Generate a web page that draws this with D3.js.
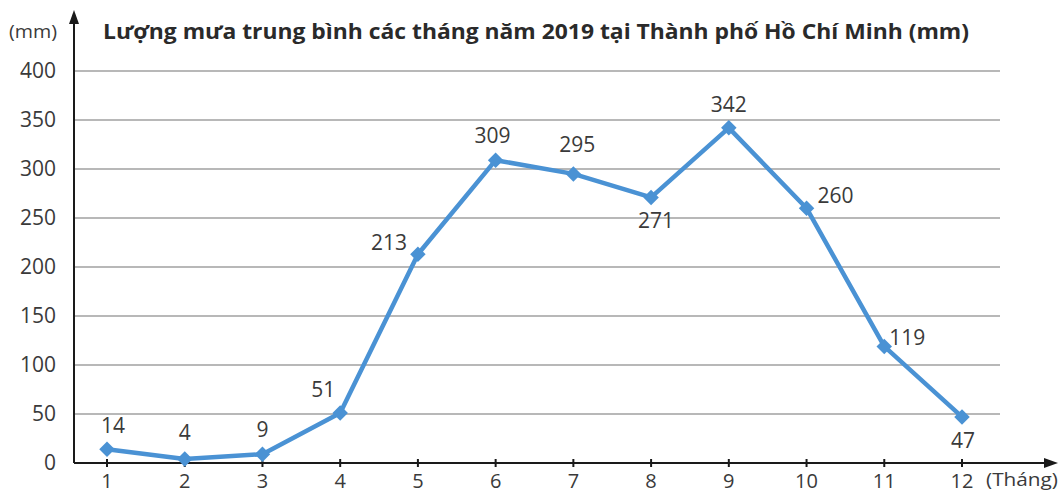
<!DOCTYPE html>
<html><head><meta charset="utf-8">
<script src="https://cdn.jsdelivr.net/npm/d3@7"></script>
<style>body{margin:0;background:#fff}svg{display:block}</style>
</head><body>
<script>
const months = [1,2,3,4,5,6,7,8,9,10,11,12];
const rainfall = [14,4,9,51,213,309,295,271,342,260,119,47];
const yTicks = [0,50,100,150,200,250,300,350,400];
const labelDx = [6,0,0,-17,-29,-3,4,5,0,29,23,1];
const labelDy = [-16,-19,-17,-16,-4,-17,-22,31,-16,-5,-1,31];
const title = "Lượng mưa trung bình các tháng năm 2019 tại Thành phố Hồ Chí Minh (mm)";

const W=1060,H=493;
const svg=d3.select("body").append("svg").attr("width",W).attr("height",H);
const x=d3.scaleLinear().domain([1,12]).range([107,962]);
const y=d3.scaleLinear().domain([0,400]).range([463,71]);
const axX=74;
const font="'Open Sans', 'DejaVu Sans', sans-serif";
const txt="#3a3a3a";

// gridlines
svg.append("g").selectAll("line").data(yTicks.filter(d=>d>0)).join("line")
  .attr("x1",axX).attr("x2",1000).attr("y1",d=>y(d)).attr("y2",d=>y(d))
  .attr("stroke","#a0a0a0").attr("stroke-width",1.6);

// y tick labels
svg.append("g").selectAll("text").data(yTicks).join("text")
  .attr("x",56).attr("y",d=>y(d)+7).attr("text-anchor","end")
  .attr("font-family",font).attr("font-size",21).attr("fill",txt).text(d=>d);

// axes
svg.append("line").attr("x1",axX).attr("x2",axX).attr("y1",463).attr("y2",22).attr("stroke","#1a1a1a").attr("stroke-width",2);
svg.append("path").attr("d",`M${axX},10 L${axX-5},24 L${axX+5},24 Z`).attr("fill","#1a1a1a");
svg.append("line").attr("x1",axX).attr("x2",1046).attr("y1",463).attr("y2",463).attr("stroke","#1a1a1a").attr("stroke-width",2);
svg.append("path").attr("d",`M1058,463 L1044,458 L1044,468 Z`).attr("fill","#1a1a1a");

// x ticks
svg.append("g").selectAll("line").data(months).join("line")
  .attr("x1",d=>x(d)).attr("x2",d=>x(d)).attr("y1",459).attr("y2",467)
  .attr("stroke","#1a1a1a").attr("stroke-width",2);
svg.append("g").selectAll("text").data(months).join("text")
  .attr("x",d=>x(d)).attr("y",488).attr("text-anchor","middle")
  .attr("font-family",font).attr("font-size",20).attr("fill",txt).text(d=>d);

svg.append("text").attr("x",1058).attr("y",486).attr("text-anchor","end")
  .attr("font-family",font).attr("font-size",19).attr("fill",txt)
  .attr("textLength",72).attr("lengthAdjust","spacingAndGlyphs").text("(Tháng)");
svg.append("text").attr("x",9).attr("y",38)
  .attr("font-family",font).attr("font-size",19).attr("fill",txt)
  .attr("textLength",48).attr("lengthAdjust","spacingAndGlyphs").text("(mm)");

// title
svg.append("text").attr("x",103).attr("y",39)
  .attr("font-family",font).attr("font-size",22).attr("font-weight","bold").attr("fill","#2a2a2a")
  .attr("textLength",866).attr("lengthAdjust","spacingAndGlyphs").text(title);

// line
const data=months.map((m,i)=>({m,v:rainfall[i],i}));
svg.append("path").datum(data)
  .attr("d",d3.line().x(d=>x(d.m)).y(d=>y(d.v)))
  .attr("fill","none").attr("stroke","#4a92d4").attr("stroke-width",4.5).attr("stroke-linejoin","round");
svg.append("g").selectAll("path").data(data).join("path")
  .attr("transform",d=>`translate(${x(d.m)},${y(d.v)}) rotate(45)`)
  .attr("d",d3.symbol(d3.symbolSquare,120))
  .attr("fill","#4a92d4");

// labels
svg.append("g").selectAll("text").data(data).join("text")
  .attr("x",d=>x(d.m)+labelDx[d.i]).attr("y",d=>y(d.v)+labelDy[d.i])
  .attr("text-anchor","middle").attr("font-family",font).attr("font-size",21).attr("fill",txt)
  .text(d=>d.v);
</script>
</body></html>
